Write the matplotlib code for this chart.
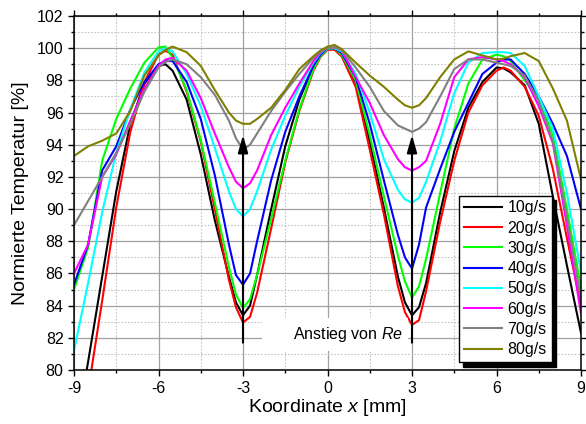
import matplotlib

matplotlib.use("Agg")
import matplotlib.pyplot as plt  # noqa: E402
from matplotlib.patches import Rectangle  # noqa: E402
from matplotlib.ticker import MultipleLocator  # noqa: E402

plt.rcParams["font.family"] = ["Liberation Sans", "DejaVu Sans"]
plt.rcParams["mathtext.fontset"] = "custom"
plt.rcParams["mathtext.rm"] = "Liberation Sans"
plt.rcParams["mathtext.it"] = "Liberation Sans:italic"
plt.rcParams["axes.unicode_minus"] = False

# Koordinate x [mm]
X_MM = [-9, -8.5, -8, -7.5, -7, -6.5, -6, -5.75, -5.5, -5,
        -4.5, -4, -3.5, -3.25, -3, -2.75, -2.5, -2, -1.5, -1,
        -0.5, -0.25, 0, 0.25, 0.5, 1, 1.5, 2, 2.5, 2.75,
        3, 3.25, 3.5, 4, 4.5, 5, 5.5, 6, 6.25, 6.5,
        7, 7.5, 8, 8.5, 9]

# normierte Temperatur [%] je Massenstrom
T_10 = [75.5, 80.5, 85.8, 91.1, 95.3, 97.8, 98.9, 99.0, 98.6, 96.8,
        93.4, 89.3, 85.8, 84.2, 83.4, 84.0, 85.9, 90.0, 93.9, 96.8,
        98.9, 99.6, 99.95, 99.95, 99.6, 97.9, 94.2, 90.1, 85.8, 84.2,
        83.4, 83.9, 85.4, 89.8, 93.6, 96.3, 97.9, 98.8, 98.75, 98.5,
        97.7, 95.3, 90.8, 86.5, 82.3]
T_20 = [73.5, 78.7, 84.3, 90.1, 94.8, 97.9, 99.6, 99.85, 99.6, 97.3,
        94.2, 90.0, 85.6, 83.9, 82.95, 83.3, 84.8, 88.8, 92.9, 96.1,
        98.6, 99.45, 99.9, 99.9, 99.5, 97.6, 93.7, 89.7, 85.2, 83.6,
        82.8, 83.1, 84.9, 89.2, 93.0, 96.0, 97.7, 98.6, 98.8, 98.6,
        97.6, 95.8, 92.5, 88.2, 84.0]
T_30 = [85.0, 87.6, 93.0, 95.6, 97.5, 99.1, 100.05, 100.1, 99.4, 97.4,
        94.3, 90.4, 86.4, 84.7, 83.85, 84.4, 85.9, 89.4, 93.0, 96.2,
        98.7, 99.5, 99.95, 100.0, 99.6, 98.0, 94.6, 90.8, 87.1, 85.5,
        84.5, 85.2, 86.9, 91.0, 95.0, 97.8, 99.3, 99.6, 99.5, 99.2,
        98.0, 96.8, 94.6, 90.0, 85.1]
T_40 = [85.3, 87.8, 92.4, 93.9, 96.2, 97.9, 99.0, 99.2, 99.2, 97.9,
        95.6, 92.1, 87.8, 85.9, 85.3, 86.0, 88.0, 91.8, 94.8, 97.0,
        98.9, 99.6, 100.0, 100.0, 99.7, 98.2, 95.3, 91.8, 88.4, 87.0,
        86.3, 87.8, 90.1, 92.5, 94.8, 96.6, 98.4, 99.1, 99.3, 99.3,
        98.4, 97.0, 95.3, 93.3, 90.0]
T_50 = [81.2, 85.4, 89.8, 93.5, 96.2, 98.5, 99.8, 100.0, 99.8, 98.4,
        96.4, 93.8, 91.1, 90.0, 89.55, 90.0, 91.1, 93.7, 95.8, 97.6,
        99.1, 99.7, 100.0, 100.0, 99.8, 98.4, 96.0, 93.1, 91.2, 90.6,
        90.4, 90.7, 91.7, 94.2, 97.2, 99.1, 99.7, 99.75, 99.75, 99.7,
        98.9, 97.0, 95.0, 91.0, 86.1]
T_60 = [86.0, 87.8, 92.0, 93.4, 95.5, 97.5, 98.9, 99.3, 99.4, 98.6,
        96.9, 94.7, 92.6, 91.7, 91.3, 91.6, 92.4, 94.6, 96.3, 97.8,
        99.2, 99.75, 100.0, 100.05, 99.9, 98.2, 96.6, 94.6, 93.1, 92.6,
        92.4, 92.6, 93.0, 95.3, 98.2, 99.3, 99.45, 99.3, 99.2, 99.0,
        98.2, 96.4, 94.1, 89.0, 83.5]
T_70 = [89.0, 90.5, 92.0, 93.5, 95.3, 97.3, 98.8, 99.15, 99.3, 99.0,
        98.2, 97.1, 95.5, 94.4, 93.7, 94.0, 94.7, 96.1, 97.3, 98.4,
        99.4, 99.8, 100.0, 100.05, 99.9, 98.8, 97.6, 96.1, 95.2, 95.0,
        94.8, 95.0, 95.4, 97.0, 98.7, 99.3, 99.3, 99.1, 99.0, 98.9,
        98.3, 96.7, 94.2, 89.5, 84.4]
T_80 = [93.3, 93.9, 94.25, 94.7, 96.1, 98.3, 99.55, 99.9, 100.1, 99.75,
        98.9, 97.4, 96.0, 95.5, 95.3, 95.3, 95.6, 96.3, 97.4, 98.7,
        99.5, 99.85, 100.1, 100.2, 99.95, 99.1, 98.3, 97.6, 96.8, 96.45,
        96.3, 96.45, 96.9, 98.2, 99.3, 99.8, 99.55, 99.3, 99.35, 99.5,
        99.7, 99.2, 97.5, 95.5, 91.85]

LABELS = ["10g/s", "20g/s", "30g/s", "40g/s", "50g/s", "60g/s", "70g/s", "80g/s"]
COLORS = ["#000000", "#ff0000", "#00ff00", "#0000ff",
          "#00ffff", "#ff00ff", "#808080", "#808000"]
SERIES = [T_10, T_20, T_30, T_40, T_50, T_60, T_70, T_80]

fig = plt.figure(figsize=(5.86, 4.24), dpi=100)
ax = fig.add_axes([74 / 586, 54 / 424, 507 / 586, 354 / 424])

for values, label, color in zip(SERIES, LABELS, COLORS):
    ax.plot(X_MM, values, color=color, lw=1.5, label=label, zorder=2,
            solid_joinstyle="round")

ax.set_xlim(-9, 9)
ax.set_ylim(80, 102)
ax.xaxis.set_major_locator(MultipleLocator(3))
ax.xaxis.set_minor_locator(MultipleLocator(1.5))
ax.yaxis.set_major_locator(MultipleLocator(2))
ax.yaxis.set_minor_locator(MultipleLocator(1))

ax.set_axisbelow(True)
ax.grid(which="major", color="#a0a0a0", lw=0.9, ls="-")
ax.grid(which="minor", color="#c4c4c4", lw=0.8, ls=(0, (1.5, 1.5)))

ax.tick_params(which="both", direction="out", top=True, right=True,
               labelsize=11.5, width=1.0)
ax.tick_params(which="major", length=4.5)
ax.tick_params(which="minor", length=2.5)
ax.tick_params(axis="x", pad=3.5)
ax.tick_params(axis="y", pad=3)
for spine in ax.spines.values():
    spine.set_linewidth(1.1)

ax.set_xlabel("Koordinate $x$ [mm]", fontsize=14)
ax.set_ylabel("Normierte Temperatur [%]", fontsize=14)
ax.xaxis.set_label_coords(0.5, -0.075)
ax.yaxis.set_label_coords(-0.088, 0.5)

# weisser Kasten hinter der Beschriftung
ax.add_patch(Rectangle((-2.33, 81.2), 5.18, 2.05, facecolor="white",
                       edgecolor="none", zorder=2.5))
ax.text(0.74, 82.2, "Anstieg von $Re$", ha="center", va="center",
        fontsize=11.5, zorder=4)

for x_arrow in (-3, 3):
    ax.annotate("", xy=(x_arrow, 94.6), xytext=(x_arrow, 81.7),
                arrowprops=dict(arrowstyle="-|>,head_length=0.7,head_width=0.2",
                                color="black", lw=1.5, mutation_scale=15,
                                shrinkA=0, shrinkB=0),
                zorder=5)

leg = ax.legend(loc="lower right", bbox_to_anchor=(0.942, 0.0226),
                fontsize=11.5, frameon=True, fancybox=False,
                edgecolor="black", framealpha=1,
                shadow={"color": "black", "alpha": 1.0, "ox": 3.3, "oy": -3.3},
                borderpad=0.3, labelspacing=0.33, handlelength=2.4,
                handletextpad=0.35, borderaxespad=0)
leg.get_frame().set_linewidth(1.0)
leg.set_zorder(6)

fig.savefig("out.png", dpi=100)
plt.close(fig)
